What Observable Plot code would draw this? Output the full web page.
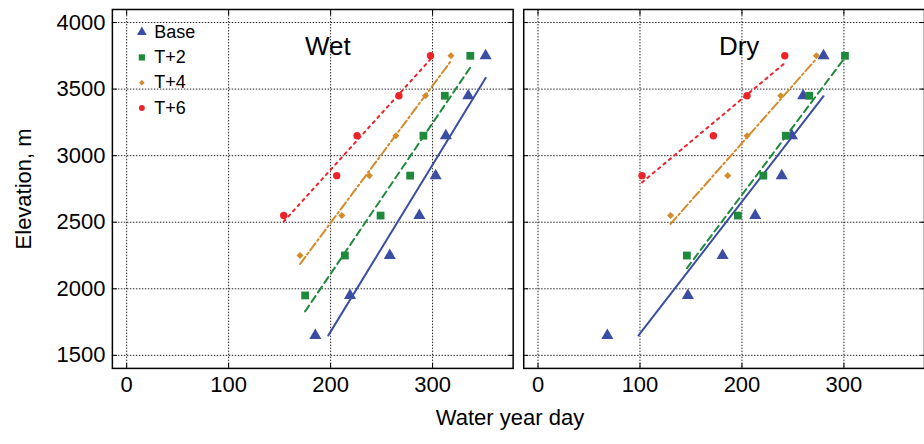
<!DOCTYPE html>
<html>
<head>
<meta charset="utf-8">
<script src="https://cdn.jsdelivr.net/npm/d3@7"></script>
<script src="https://cdn.jsdelivr.net/npm/@observablehq/plot@0.6"></script>
<style>
  html, body { margin: 0; padding: 0; background: #fff; overflow: hidden; }
  #chart { font-family: "Liberation Sans", Arial, Helvetica, sans-serif; color: #000; }
  #chart svg { display: block; }
  .x-title { font-size: 22px; line-height: 36px; padding-left: 96px; width: 828px; text-align: center; }
</style>
</head>
<body>
<div id="chart"></div>
<script>
// Elevation bands (m) and the water-year day reached in each band.
const panels = ["Wet", "Dry"];
const seriesNames = ["Base", "T+2", "T+4", "T+6"];
const elevations = [1650, 1950, 2250, 2550, 2850, 3150, 3450, 3750];

const wetBase = [185, 219, 258, 287, 303, 313, 335, 352];
const wetT2   = [null, 175, 214, 249, 278, 291, 312, 337];
const wetT4   = [null, null, 170, 211, 238, 264, 293, 318];
const wetT6   = [null, null, null, 154, 206, 226, 267, 298];

const dryBase = [68, 147, 181, 213, 239, 249, 260, 280];
const dryT2   = [null, null, 146, 196, 221, 243, 266, 301];
const dryT4   = [null, null, null, 130, 186, 205, 238, 273];
const dryT6   = [null, null, null, null, 102, 172, 205, 242];

const xTicks = [0, 100, 200, 300];
const yTicks = [1500, 2000, 2500, 3000, 3500, 4000];

// Long table built from the arrays above.
const columns = [
  ["Wet", "Base", wetBase], ["Wet", "T+2", wetT2], ["Wet", "T+4", wetT4], ["Wet", "T+6", wetT6],
  ["Dry", "Base", dryBase], ["Dry", "T+2", dryT2], ["Dry", "T+4", dryT4], ["Dry", "T+6", dryT6]
];
const points = [];
for (const [panel, series, days] of columns) {
  days.forEach((day, i) => {
    if (day != null) points.push({panel, series, day, elevation: elevations[i]});
  });
}

// Least-squares fit of elevation on day, drawn across each series' day range
// and not below the lowest elevation band.
const fitFloor = d3.min(elevations);
function fitLine(rows) {
  const mx = d3.mean(rows, d => d.day), my = d3.mean(rows, d => d.elevation);
  const b = d3.sum(rows, d => (d.day - mx) * (d.elevation - my)) / d3.sum(rows, d => (d.day - mx) ** 2);
  const a = my - b * mx;
  const x0 = Math.max(d3.min(rows, d => d.day), (fitFloor - a) / b);
  const x1 = d3.max(rows, d => d.day);
  return [x0, x1].map(day => ({day, elevation: a + b * day}));
}
const fits = [];
for (const [panel, series] of columns) {
  const rows = points.filter(d => d.panel === panel && d.series === series);
  for (const p of fitLine(rows)) fits.push({panel, series, ...p});
}

const style = {
  "Base": {color: "#3a4ea2", symbol: "triangle", r: 4.5, dash: null},
  "T+2":  {color: "#1f8a3b", symbol: "square",   r: 4.4, dash: "7,4.5"},
  "T+4":  {color: "#d38c2c", symbol: "diamond2", r: 3.2, dash: "9,3,2,3"},
  "T+6":  {color: "#ec2429", symbol: "circle",   r: 3.7, dash: "2.5,4.5"}
};

const font = {fontFamily: "Liberation Sans, Arial, Helvetica, sans-serif"};
const blank = () => "";

const marks = [
  Plot.gridX({ticks: xTicks, stroke: "#000", strokeOpacity: 0.85, strokeDasharray: "1.5,1.5"}),
  Plot.gridY({ticks: yTicks, stroke: "#000", strokeOpacity: 0.85, strokeDasharray: "1.5,1.5"}),
  // inward tick marks on all four sides of each panel
  Plot.axisX({anchor: "bottom", ticks: xTicks, tickSize: 5, dy: -5, tickFormat: blank, label: null}),
  Plot.axisX({anchor: "top", ticks: xTicks, tickSize: 5, dy: 5, tickFormat: blank, label: null}),
  Plot.axisY({anchor: "left", ticks: yTicks, tickSize: 5, dx: 5, tickFormat: blank, label: null, facetAnchor: null}),
  Plot.axisY({anchor: "right", ticks: yTicks, tickSize: 5, dx: -5, tickFormat: blank, label: null, facetAnchor: null}),
  // tick labels and y title
  Plot.axisX({anchor: "bottom", ticks: xTicks, tickSize: 0, tickPadding: 8, fontSize: 22, label: null, ...font}),
  Plot.axisY({anchor: "left", ticks: yTicks, tickSize: 0, tickPadding: 7, fontSize: 22, tickFormat: d => String(d),
    label: "Elevation, m", labelAnchor: "center", labelArrow: "none", labelOffset: 97, ...font}),
  Plot.frame({stroke: "#000", strokeWidth: 1.5})
];

for (const s of seriesNames) {
  const st = style[s];
  marks.push(Plot.line(fits.filter(d => d.series === s), {
    x: "day", y: "elevation", fx: "panel", z: "panel",
    stroke: st.color, strokeWidth: 2, strokeDasharray: st.dash
  }));
}
for (const s of seriesNames) {
  const st = style[s];
  marks.push(Plot.dot(points.filter(d => d.series === s), {
    x: "day", y: "elevation", fx: "panel",
    symbol: st.symbol, r: st.r, fill: st.color, stroke: "none"
  }));
}

// panel titles
marks.push(Plot.text(panels, {
  fx: d => d, text: d => d, frameAnchor: "top", lineAnchor: "top",
  dx: 15, dy: 27, fontSize: 26, ...font
}));

// legend in the Wet panel
seriesNames.forEach((s, i) => {
  const st = style[s];
  marks.push(Plot.dot([s], {
    fx: () => "Wet", frameAnchor: "top-left", dx: 29.5, dy: 22.7 + i * 25.3,
    symbol: st.symbol, r: st.r * 0.8, fill: st.color, stroke: "none"
  }));
  marks.push(Plot.text([s], {
    fx: () => "Wet", text: d => d, frameAnchor: "top-left", textAnchor: "start", lineAnchor: "middle",
    dx: 42, dy: 22.7 + i * 25.3, fontSize: 18, ...font
  }));
});

const chart = Plot.plot({
  width: 925,
  height: 400,
  marginTop: 9,
  marginBottom: 31.7,
  marginLeft: 112,
  marginRight: 0,
  style: {fontFamily: "Liberation Sans, Arial, Helvetica, sans-serif", fontSize: "22px", color: "#000", background: "#fff"},
  fx: {domain: panels, axis: null, paddingInner: 0.0257, paddingOuter: 0, round: false},
  x: {domain: [-14, 379]},
  y: {domain: [1402, 4098]},
  marks
});

const root = document.getElementById("chart");
root.appendChild(chart);
const xTitle = document.createElement("div");
xTitle.className = "x-title";
xTitle.textContent = "Water year day";
root.appendChild(xTitle);
</script>
</body>
</html>
